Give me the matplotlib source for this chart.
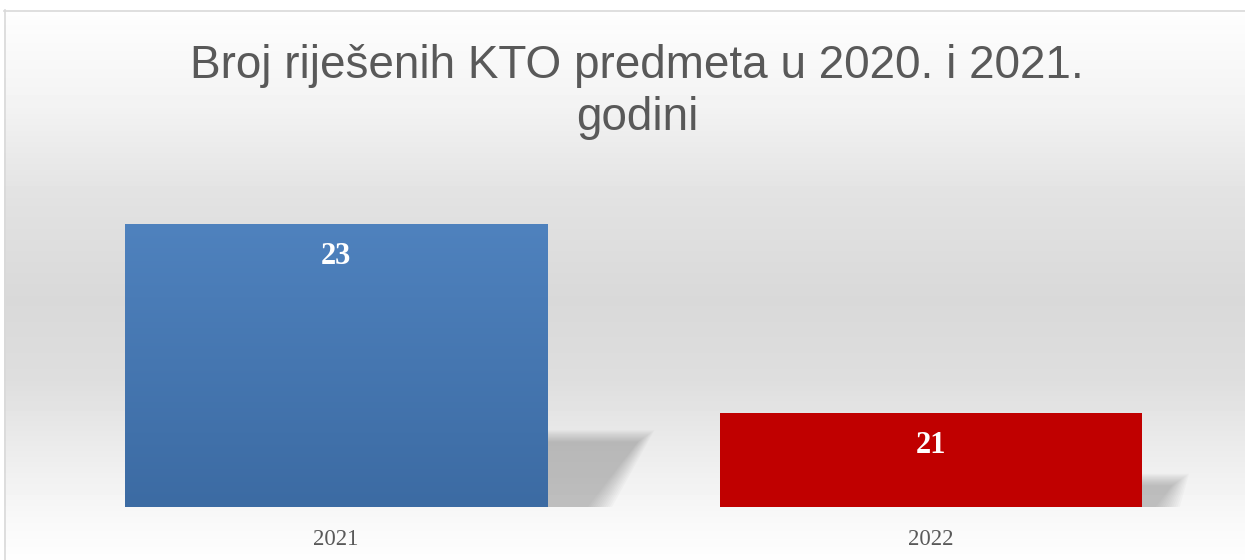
import numpy as np
import matplotlib.pyplot as plt
from matplotlib.patches import Polygon
from matplotlib.colors import LinearSegmentedColormap

# Podaci
categories = ["2021", "2022"]
values = [23, 21]
bar_colors = ["#4a7dba", "#c00000"]
title = "Broj riješenih KTO predmeta u 2020. i 2021.\ngodini"

W, H = 1245, 560
fig = plt.figure(figsize=(W / 100, H / 100), dpi=100)

# pozadina s gradijentom (bijelo - sivo - bijelo)
bg = fig.add_axes([0, 0, 1, 1], zorder=0)
bg.set_xlim(0, W)
bg.set_ylim(H, 0)
bg.axis("off")
stops_y = [10, 100, 200, 300, 380, 450, 520, 560]
stops_v = [0.995, 0.955, 0.885, 0.85, 0.87, 0.925, 0.975, 0.995]
ys = np.arange(10, H) + 0.5
grey = np.interp(ys, stops_y, stops_v)
img = np.repeat(grey[:, None], 20, axis=1)
bg.imshow(img, cmap="gray", vmin=0, vmax=1, aspect="auto",
          extent=[4, W, H, 10], interpolation="none")
bg.plot([4, W], [10.5, 10.5], color="#d9d9d9", lw=1.2)
bg.plot([4.5, 4.5], [10, H], color="#d9d9d9", lw=1.2)

fig.text(637 / W, 1 - 92 / H, title, ha="center", va="center",
         fontsize=33, color="#595959", family=["Liberation Sans", "DejaVu Sans"],
         linespacing=1.22)

# glavni graf
ax = fig.add_axes([38.5 / W, 53 / H, 1190 / W, 378 / H], zorder=1)
ax.patch.set_alpha(0)
ymin, ymax = 20, 24
ax.set_xlim(-0.5, 1.5)
ax.set_ylim(ymin, ymax)
for s in ax.spines.values():
    s.set_visible(False)
ax.set_yticks([])
x = np.arange(len(categories))
bw = 0.71

# sjene iza stupaca (perspektiva, mekani rub)
px_per_x = 1190 / 2.0
px_per_y = 378 / (ymax - ymin)
n_layers = 12
for xi, v in zip(x, values):
    h_px = (v - ymin) * px_per_y
    right = xi + bw / 2
    for k in range(n_layers):
        grow = (n_layers - 1 - k) * 1.5
        dx = (0.32 * h_px + grow) / px_per_x
        dy = (0.23 * h_px + grow * 0.7) / px_per_y
        poly = Polygon([(right - 0.05, ymin), (right - 0.05, ymin + dy),
                        (right + dx, ymin + dy),
                        (right + dx * 0.45 + grow / px_per_x, ymin)],
                       closed=True, facecolor="#707070", edgecolor="none",
                       alpha=0.038, zorder=1)
        ax.add_patch(poly)

# plavi stupac s gradijentom, crveni jednobojno
blue_cmap = LinearSegmentedColormap.from_list("b", ["#3c6ba3", "#4f82be"])
bars = ax.bar(x, [v - ymin for v in values], bottom=ymin, width=bw,
              color=bar_colors, zorder=2)
b0 = bars[0]
grad = np.linspace(0, 1, 256)[:, None]
im = ax.imshow(grad, cmap=blue_cmap, aspect="auto", origin="lower",
               extent=[b0.get_x(), b0.get_x() + bw, ymin, values[0]], zorder=2.5)
im.set_clip_path(b0)
ax.set_xlim(-0.5, 1.5)
ax.set_ylim(ymin, ymax)

for xi, v in zip(x, values):
    ax.text(xi, v - 33 / px_per_y, str(v), ha="center", va="center",
            fontsize=22, fontweight="bold", color="white",
            family=["Liberation Serif", "DejaVu Serif"], zorder=3)

ax.set_xticks(x)
ax.set_xticklabels(categories, fontsize=16.5, color="#595959",
                   family=["Liberation Serif", "DejaVu Serif"])
ax.tick_params(axis="x", length=0, pad=16)

fig.savefig("out.png", dpi=100)
